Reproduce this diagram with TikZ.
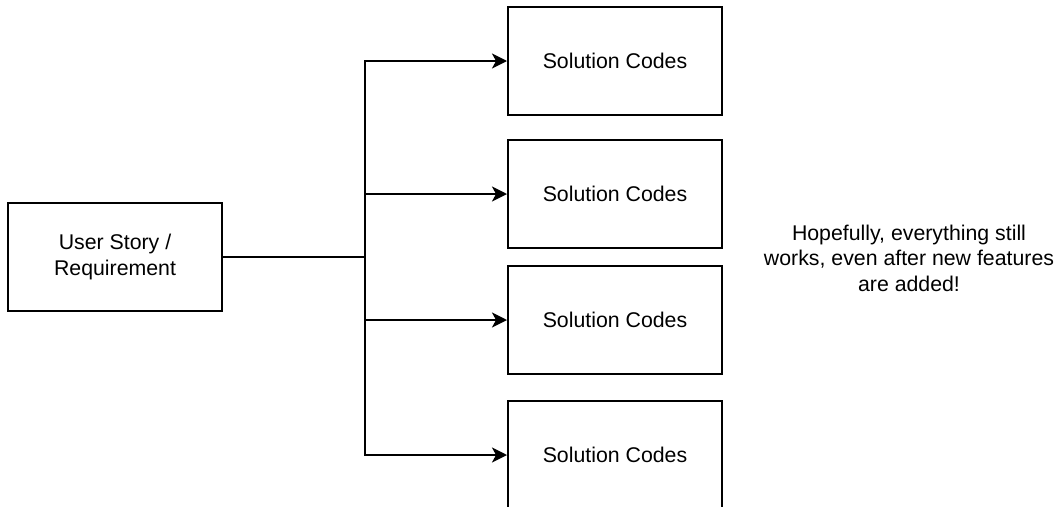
\documentclass[tikz,border=0pt]{standalone}
\usepackage{fontspec}
\setmainfont{Liberation Sans}
\usetikzlibrary{arrows.meta}
\begin{document}
\begin{tikzpicture}[x=1pt,y=-1pt,
  box/.style={draw=black,line width=2pt,minimum width=214pt,minimum height=108pt,inner sep=0pt,align=center,font=\fontsize{21.3}{25.5}\selectfont},
  wire/.style={draw=black,line width=2pt},
  conn/.style={wire,-{Stealth[length=15pt,width=15pt,inset=4pt]}},
  note/.style={align=center,font=\fontsize{21.3}{25.5}\selectfont}]
\clip (0,0) rectangle (1064,506);
\useasboundingbox (0,0) rectangle (1064,506);
\node[box] (L) at (115,257) {User Story /\\Requirement};
\node[box] (B1) at (615,61) {Solution Codes};
\node[box] (B2) at (615,194) {Solution Codes};
\node[box] (B3) at (615,320) {Solution Codes};
\node[box] (B4) at (615,455) {Solution Codes};
\coordinate (J) at (365,257);
\draw[wire] (L.east) -- (J);
\draw[conn] (J) |- (B1.west);
\draw[conn] (J) |- (B2.west);
\draw[conn] (J) |- (B3.west);
\draw[conn] (J) |- (B4.west);
\node[note] (N) at (909,258) {Hopefully, everything still\\works, even after new features\\are added!};
\end{tikzpicture}
\end{document}
